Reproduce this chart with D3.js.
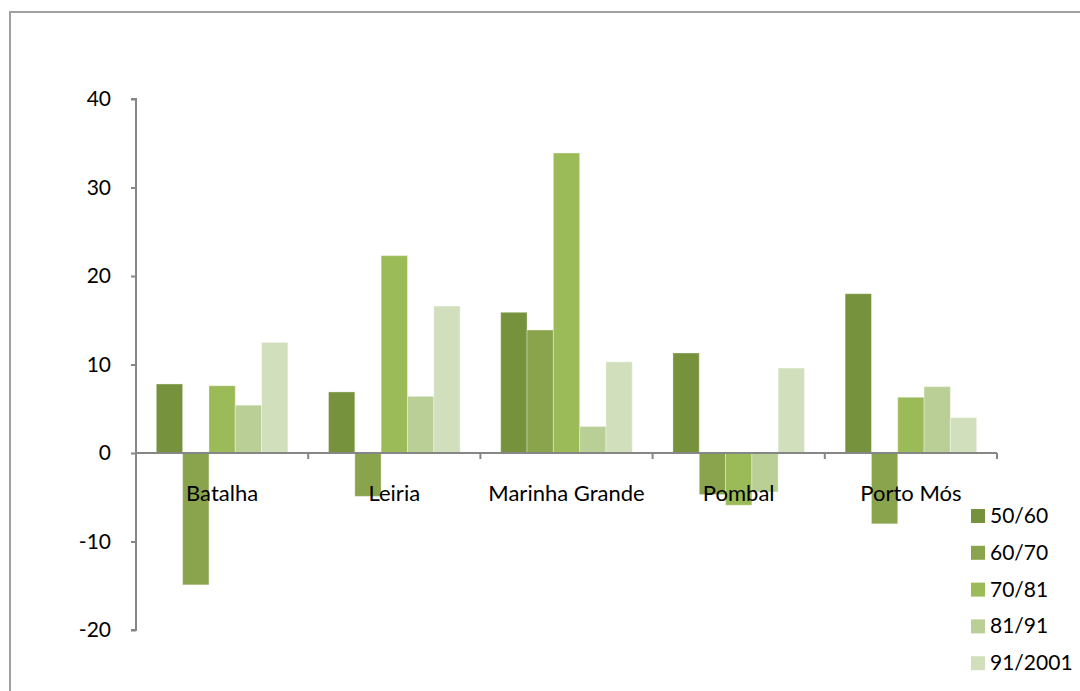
<!DOCTYPE html>
<html><head><meta charset="utf-8">
<script src="https://cdn.jsdelivr.net/npm/d3@7"></script>
<style>body{margin:0;background:#fff}svg{display:block}</style>
</head><body><svg id="c" width="1080" height="691"></svg>
<script>
const categories = ["Batalha", "Leiria", "Marinha Grande", "Pombal", "Porto Mós"];
const seriesNames = ["50/60", "60/70", "70/81", "81/91", "91/2001"];
const s5060 = [7.8, 6.9, 15.9, 11.3, 18.0];
const s6070 = [-14.9, -4.9, 13.9, -4.7, -8.0];
const s7081 = [7.6, 22.3, 33.9, -5.9, 6.3];
const s8191 = [5.4, 6.4, 3.0, -4.4, 7.5];
const s912001 = [12.5, 16.6, 10.3, 9.6, 4.0];
const yTicks = [-20, -10, 0, 10, 20, 30, 40];
const colors = ["#76923C", "#8AA44E", "#9BBB59", "#BACF96", "#D2DFBD"];
const seriesValues = [s5060, s6070, s7081, s8191, s912001];

const svg = d3.select("#c");
const font = "Lato, 'Noto Sans', sans-serif";
const fs = 21;
// outer frame
svg.append("rect").attr("x", 10).attr("y", 12).attr("width", 1100).attr("height", 700)
  .attr("fill", "none").attr("stroke", "#A0A0A0").attr("stroke-width", 2);

const x0 = 136, x1 = 997;
const y = d3.scaleLinear().domain([-20, 40]).range([630, 99]);
const x = d3.scaleBand().domain(categories).range([x0, x1]).paddingInner(0.236).paddingOuter(0.118);
const xs = d3.scaleBand().domain(seriesNames).range([0, x.bandwidth()]);

const g = svg.append("g");
seriesNames.forEach((s, si) => {
  g.selectAll(null).data(seriesValues[si]).enter().append("rect")
    .attr("x", (d, i) => x(categories[i]) + xs(s))
    .attr("width", xs.bandwidth())
    .attr("y", d => y(Math.max(0, d)))
    .attr("height", d => Math.abs(y(d) - y(0)))
    .attr("fill", colors[si])
    .attr("stroke", "rgba(255,255,255,0.35)").attr("stroke-width", 1);
});

// y axis
const yAxis = d3.axisLeft(y).tickValues(yTicks).tickSize(5).tickPadding(20).tickFormat(d3.format("d"));
const ya = svg.append("g").attr("transform", `translate(${x0},0)`).call(yAxis);
ya.select(".domain").attr("stroke", "#868686").attr("stroke-width", 2).attr("d", `M-5,${y(40)}H0V${y(-20)}H-5`);
ya.selectAll(".tick line").attr("stroke", "#868686").attr("stroke-width", 2);
ya.selectAll(".tick text").attr("font-family", font).attr("font-size", fs).attr("fill", "#000")
  .text(d => d < 0 ? "-" + Math.abs(d) : d);

// x axis at zero
const bounds = d3.range(categories.length + 1).map(i => x0 + i * (x1 - x0) / categories.length);
svg.append("line").attr("x1", x0).attr("x2", x1).attr("y1", y(0)).attr("y2", y(0))
  .attr("stroke", "#868686").attr("stroke-width", 2);
svg.selectAll(null).data(bounds).enter().append("line")
  .attr("x1", d => d).attr("x2", d => d).attr("y1", y(0)).attr("y2", y(0) + 6)
  .attr("stroke", "#868686").attr("stroke-width", 2);
svg.selectAll(null).data(categories).enter().append("text")
  .attr("x", (d, i) => (bounds[i] + bounds[i + 1]) / 2).attr("y", 501)
  .attr("text-anchor", "middle").attr("font-family", font).attr("font-size", 22).attr("fill", "#000")
  .text(d => d);

// legend
const lg = svg.append("g");
seriesNames.forEach((s, i) => {
  const yy = 516 + i * 36.8;
  lg.append("rect").attr("x", 971).attr("y", yy - 7).attr("width", 14).attr("height", 14).attr("fill", colors[i]);
  lg.append("text").attr("x", 990).attr("y", yy + 7).attr("font-family", font).attr("font-size", fs)
    .attr("fill", "#000").text(s);
});
</script></body></html>
